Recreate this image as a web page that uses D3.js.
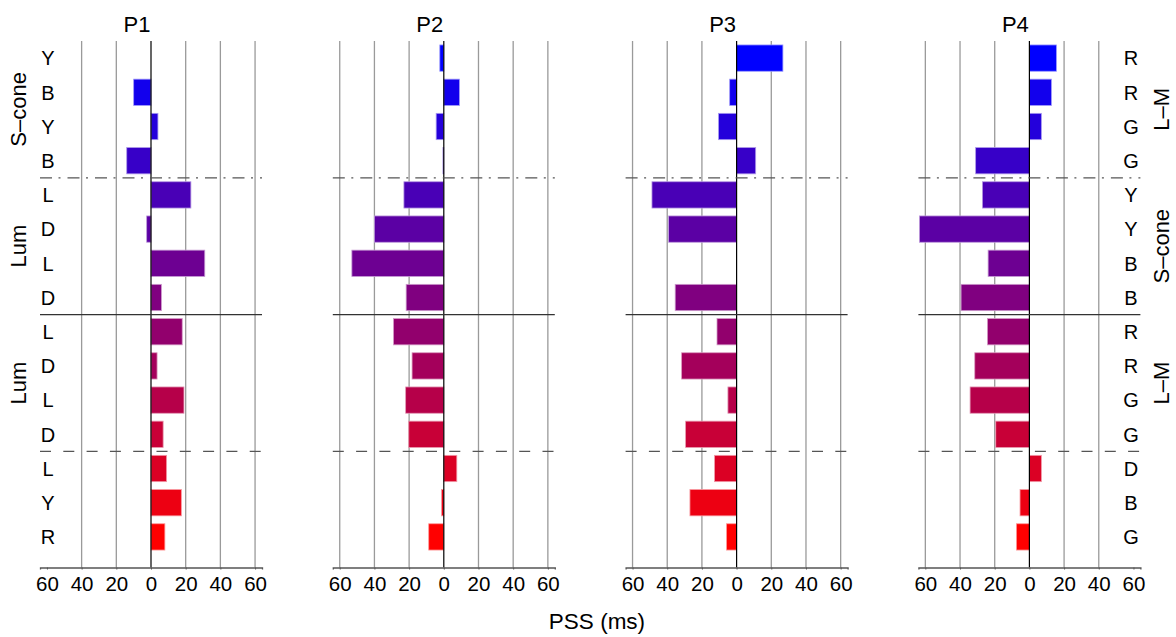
<!DOCTYPE html>
<html>
<head>
<meta charset="utf-8">
<script src="https://cdn.jsdelivr.net/npm/d3@7"></script>
<style>
  html, body { margin: 0; padding: 0; background: #fff; }
  svg { display: block; font-family: "Liberation Sans", Arial, Helvetica, sans-serif; }
</style>
</head>
<body>
<svg id="chart" width="1176" height="637"></svg>
<script>
// Observers and their PSS values (ms), one per stimulus row, top to bottom
const panels = ["P1", "P2", "P3", "P4"];
const p1 = [0, -10, 4, -14, 23, -2.5, 31, 6, 18, 3.5, 19, 7, 9, 17.5, 8];
const p2 = [-2.3, 9, -4.4, -0.5, -23, -40, -53, -21.7, -29, -18.3, -22, -20.2, 7.5, -1.3, -8.7];
const p3 = [26.7, -4, -10.4, 11, -48.8, -39.2, 0, -35.4, -11.3, -31.7, -5, -29.4, -12.7, -26.9, -5.8];
const p4 = [15.6, 12.7, 6.9, -31, -27.1, -63.4, -23.8, -39.4, -24.2, -31.5, -34.2, -19.4, 6.9, -5.4, -7.5];
const values = [p1, p2, p3, p4];

// Row labels on each side
const leftLabels = ["Y", "B", "Y", "B", "L", "D", "L", "D", "L", "D", "L", "D", "L", "Y", "R"];
const rightLabels = ["R", "R", "G", "G", "Y", "Y", "B", "B", "R", "R", "G", "G", "D", "B", "G"];
// Group labels: [first row, last row, text]
const leftGroups = [[0, 3, "S\u2013cone"], [4, 7, "Lum"], [8, 11, "Lum"]];
const rightGroups = [[0, 3, "L\u2013M"], [4, 7, "S\u2013cone"], [8, 11, "L\u2013M"]];
// Separator lines above rows, with their dash style
const separators = [[4, "12,6.5,2,7"], [8, null], [12, "11,12.3"]];

const tickValues = [-60, -40, -20, 0, 20, 40, 60];
const xDomain = [-64, 64];

const svg = d3.select("#chart");
const rows = d3.range(leftLabels.length);

const y = d3.scaleBand()
  .domain(rows)
  .range([41, 554])
  .paddingInner(0.231)
  .paddingOuter(0.1155);

const axisY = 567.5;
const color = d3.interpolateRgb("#0000ff", "#ff0000");
const panelLeft = d3.scaleLinear().domain([0, 1]).range([40, 332.8]);
const panelWidth = 222;

panels.forEach((name, pi) => {
  const left = panelLeft(pi);
  const x = d3.scaleLinear().domain(xDomain).range([left, left + panelWidth]);
  const g = svg.append("g");

  // vertical grid lines
  const grid = tickValues.filter(t => t !== 0 && !(pi === 0 && t === -60) && !(pi === panels.length - 1 && t === 60));
  g.selectAll("line.grid").data(grid).join("line")
    .attr("x1", d => x(d)).attr("x2", d => x(d))
    .attr("y1", 41).attr("y2", axisY)
    .attr("stroke", "#9a9a9a").attr("stroke-width", 1.3);

  // bars
  g.selectAll("rect.bar").data(values[pi]).join("rect")
    .attr("x", d => Math.min(x(0), x(d)))
    .attr("width", d => Math.abs(x(d) - x(0)))
    .attr("y", (d, i) => y(i))
    .attr("height", y.bandwidth())
    .attr("fill", (d, i) => color(i / (rows.length - 1)))
    .attr("stroke", (d, i) => d3.interpolateRgb(color(i / (rows.length - 1)), "#fff")(0.6))
    .attr("stroke-width", 0.8);

  // zero line
  g.append("line")
    .attr("x1", x(0)).attr("x2", x(0))
    .attr("y1", 41).attr("y2", axisY)
    .attr("stroke", "#000").attr("stroke-width", 1.2);

  // group separators
  separators.forEach(([row, dash]) => {
    const yy = y(row) - (y.step() - y.bandwidth()) / 2;
    g.append("line")
      .attr("x1", left).attr("x2", left + panelWidth)
      .attr("y1", yy).attr("y2", yy)
      .attr("stroke", dash ? "#555" : "#333")
      .attr("stroke-width", 1.2)
      .attr("stroke-dasharray", dash);
  });

  // x axis
  const axis = d3.axisBottom(x)
    .tickValues(tickValues)
    .tickSize(2)
    .tickPadding(7)
    .tickFormat(d => Math.abs(d));
  const ax = g.append("g").attr("transform", `translate(0,${axisY})`).call(axis);
  ax.select(".domain").attr("stroke", "#555").attr("stroke-width", 1.3);
  ax.selectAll(".tick line").attr("stroke", "#555");
  ax.selectAll(".tick text")
    .attr("font-size", 20.5)
    .attr("font-family", "Liberation Sans, Arial, sans-serif")
    .attr("fill", "#000");

  // panel title
  g.append("text")
    .attr("x", x(0) - 14).attr("y", 32)
    .attr("text-anchor", "middle")
    .attr("font-size", 22)
    .text(name);
});

// row labels
svg.selectAll("text.lrow").data(leftLabels).join("text")
  .attr("x", 48).attr("y", (d, i) => y(i) + y.bandwidth() / 2)
  .attr("dy", "0.36em").attr("text-anchor", "middle")
  .attr("font-size", 20).text(d => d);
svg.selectAll("text.rrow").data(rightLabels).join("text")
  .attr("x", 1131).attr("y", (d, i) => y(i) + y.bandwidth() / 2)
  .attr("dy", "0.36em").attr("text-anchor", "middle")
  .attr("font-size", 20).text(d => d);

// group labels
function groupLabels(groups, cx) {
  groups.forEach(([a, b, t]) => {
    const cy = (y(a) + y(b) + y.bandwidth()) / 2;
    svg.append("text")
      .attr("transform", `translate(${cx},${cy}) rotate(-90)`)
      .attr("text-anchor", "middle")
      .attr("dy", "0.36em")
      .attr("font-size", 22)
      .text(t);
  });
}
groupLabels(leftGroups, 18);
groupLabels(rightGroups, 1161);

// x axis title
svg.append("text")
  .attr("x", 597).attr("y", 629)
  .attr("text-anchor", "middle")
  .attr("font-size", 22.5)
  .text("PSS (ms)");
</script>
</body>
</html>
